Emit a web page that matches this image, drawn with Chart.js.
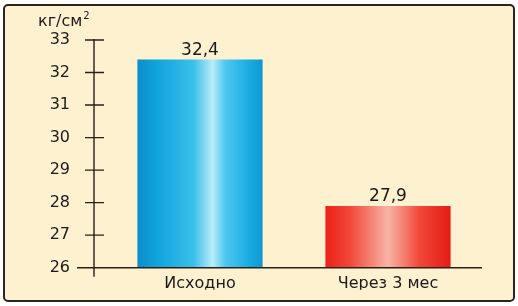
<!DOCTYPE html>
<html>
<head>
<meta charset="utf-8">
<script src="https://cdn.jsdelivr.net/npm/chart.js@4/dist/chart.umd.min.js"></script>
<style>
  body { margin: 0; background: #fff; }
  #frame {
    position: absolute; left: 3px; top: 4px; width: 508px; height: 294px;
    border: 2px solid #2a2520; border-radius: 5px; background: #fdf1cf;
  }
  #chart { position: absolute; left: 0; top: 0; }
</style>
</head>
<body>
<div id="frame"></div>
<canvas id="chart" width="518" height="306"></canvas>
<script>
// data
const categories = ['Исходно', 'Через 3 мес'];
const values = [32.4, 27.9];
const unitLabel = 'кг/см';
const yMin = 26;
const yMax = 33;

// bar gradients, left -> right
const barStops = [
    [[0, '#0a8ecd'], [0.18, '#12a6de'], [0.45, '#3bbfea'], [0.6, '#b8ecfa'], [0.7, '#4fc8ef'], [0.88, '#1aaee2'], [1, '#0d98d3']],
    [[0, '#ec2216'], [0.2, '#f2483a'], [0.5, '#f8b4a6'], [0.75, '#f2483a'], [1, '#e41c14']]
];

const FONT = "'DejaVu Sans', sans-serif";
const CAT_PCT = 0.9;
const BAR_PCT = 0.74;

function barFill(ctx) {
    const chart = ctx.chart;
    const xs = chart.scales.x;
    if (!chart.chartArea || !xs) return barStops[ctx.dataIndex][0][1];
    const cx = xs.getPixelForValue(ctx.dataIndex);
    const half = xs.width / categories.length / 2 * CAT_PCT * BAR_PCT;
    const g = chart.ctx.createLinearGradient(cx - half, 0, cx + half, 0);
    barStops[ctx.dataIndex].forEach(s => g.addColorStop(s[0], s[1]));
    return g;
}

// axis line, crossing ticks, baseline, unit and value labels
const axisPlugin = {
    id: 'axisPlugin',
    afterDatasetsDraw(chart) {
        const c = chart.ctx;
        const ys = chart.scales.y;
        const area = chart.chartArea;
        const axisX = area.left - 12;
        c.save();
        c.strokeStyle = '#2a2018';
        c.lineWidth = 1.4;
        c.beginPath();
        c.moveTo(axisX, ys.getPixelForValue(yMax) - 1);
        c.lineTo(axisX, ys.getPixelForValue(yMin) + 9);
        for (let v = yMin + 1; v <= yMax; v++) {
            const y = ys.getPixelForValue(v);
            c.moveTo(axisX - 9, y);
            c.lineTo(axisX + 10, y);
        }
        const by = ys.getPixelForValue(yMin);
        c.moveTo(axisX - 17, by);
        c.lineTo(area.right, by);
        c.stroke();

        c.fillStyle = '#1a1a1a';
        c.font = '16px ' + FONT;
        c.textAlign = 'left';
        c.textBaseline = 'alphabetic';
        c.fillText(unitLabel, 38, 26);
        const w = c.measureText(unitLabel).width;
        c.font = '10px ' + FONT;
        c.fillText('2', 38 + w + 1, 19);

        c.font = '17px ' + FONT;
        c.textAlign = 'center';
        chart.getDatasetMeta(0).data.forEach((bar, i) => {
            c.fillText(values[i].toFixed(1).replace('.', ','), bar.x, bar.y - 5);
        });
        c.restore();
    }
};

new Chart(document.getElementById('chart'), {
    type: 'bar',
    data: {
        labels: categories,
        datasets: [{
            data: values,
            backgroundColor: barFill,
            borderWidth: 0,
            categoryPercentage: CAT_PCT,
            barPercentage: BAR_PCT,
            base: yMin
        }]
    },
    options: {
        responsive: false,
        animation: false,
        devicePixelRatio: 1,
        layout: { padding: { left: 46, top: 40, right: 36, bottom: 16.3 } },
        plugins: { legend: { display: false }, tooltip: { enabled: false } },
        scales: {
            x: {
                grid: { display: false },
                border: { display: false },
                ticks: { color: '#1a1a1a', font: { family: FONT, size: 16 }, padding: -1 },
                afterFit(scale) { scale.height = 22; }
            },
            y: {
                min: yMin,
                max: yMax,
                // invisible tick marks only push the labels left; the real axis is drawn by the plugin
                grid: { drawOnChartArea: false, drawTicks: true, tickLength: 34, tickColor: 'rgba(0,0,0,0)' },
                border: { display: false },
                ticks: { stepSize: 1, color: '#1a1a1a', font: { family: FONT, size: 16 }, padding: 2 },
                afterFit(scale) { scale.width = 60; }
            }
        }
    },
    plugins: [axisPlugin]
});
</script>
</body>
</html>
